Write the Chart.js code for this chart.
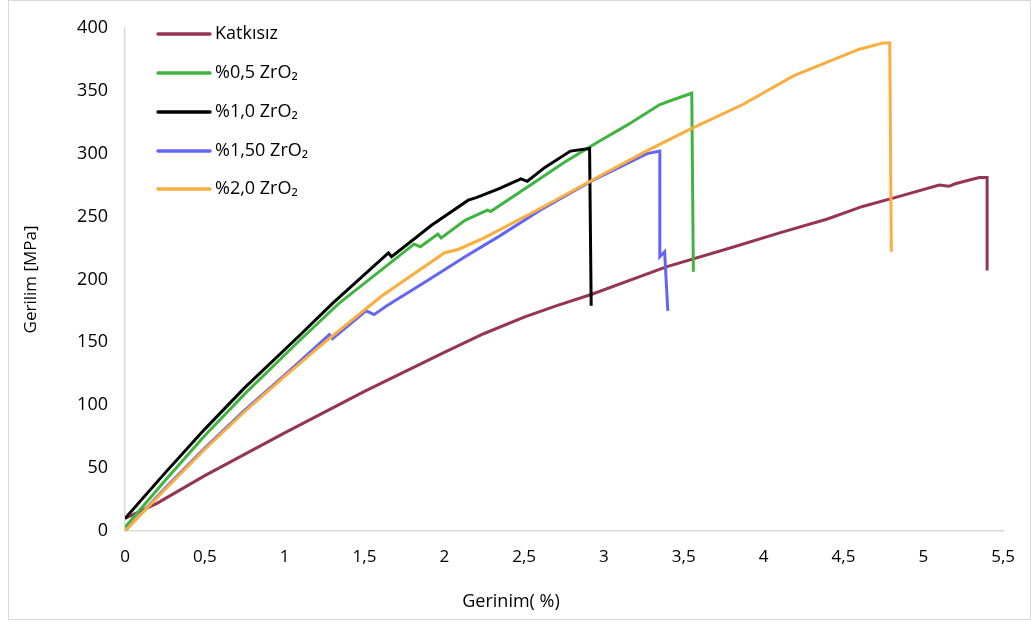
<!DOCTYPE html>
<html>
<head>
<meta charset="utf-8">
<script src="https://cdn.jsdelivr.net/npm/chart.js@4"></script>
<style>
  html, body { margin: 0; padding: 0; background: #fff; }
  #wrap { position: relative; width: 1031px; height: 624px; }
  #frame { position: absolute; left: 8px; top: 0; width: 1021px; height: 618px; border: 1px solid #d9d9d9; }
  #chart { position: absolute; left: 0; top: 0; }
</style>
</head>
<body>
<div id="wrap">
  <div id="frame"></div>
  <canvas id="chart" width="1031" height="624"></canvas>
</div>
<script>
// Tick labels
const xTicks = [0, 0.5, 1, 1.5, 2, 2.5, 3, 3.5, 4, 4.5, 5, 5.5];
const yTicks = [0, 50, 100, 150, 200, 250, 300, 350, 400];

// Katkısız
const katkisizX = [0, 0.2, 0.5, 1.0, 1.5, 2.0, 2.25, 2.5, 2.7, 2.92, 3.39, 3.79, 4.1, 4.4, 4.62, 4.85, 5.1, 5.16, 5.2, 5.35, 5.4, 5.4];
const katkisizY = [10, 22, 44, 78, 111, 142, 157, 170, 179, 188, 210, 225, 237, 248, 258, 266, 275, 274, 276, 281, 281, 207];

// %0,5 ZrO2
const zr05X = [0, 0.25, 0.5, 0.75, 1.09, 1.34, 1.6, 1.81, 1.85, 1.96, 1.98, 2.13, 2.27, 2.29, 2.54, 2.75, 2.96, 3.15, 3.35, 3.46, 3.55, 3.56];
const zr05Y = [3, 40, 76, 109, 151, 181, 207, 228, 226, 236, 233, 247, 255, 254, 275, 293, 309, 323, 339, 344, 348, 206];

// %1,0 ZrO2
const zr10X = [0, 0.25, 0.5, 0.75, 1.09, 1.3, 1.65, 1.67, 1.92, 2.15, 2.2, 2.34, 2.48, 2.52, 2.63, 2.79, 2.91, 2.92];
const zr10Y = [10, 46, 81, 114, 155, 181, 221, 218, 243, 263, 265, 272, 280, 278, 289, 302, 304, 179];

// %1,50 ZrO2
const zr15X = [0, 0.25, 0.5, 0.75, 1.0, 1.28, 1.3, 1.51, 1.56, 1.64, 1.88, 2.13, 2.34, 2.6, 2.92, 3.27, 3.35, 3.35, 3.38, 3.4];
const zr15Y = [0, 34, 66, 96, 124, 156, 153, 175, 172, 179, 198, 218, 234, 255, 278, 300, 302, 218, 222, 175];

// %2,0 ZrO2
const zr20X = [0, 0.25, 0.5, 0.75, 1.0, 1.25, 1.61, 2.0, 2.09, 2.25, 2.58, 3.0, 3.25, 3.55, 3.87, 4.19, 4.6, 4.75, 4.79, 4.8];
const zr20Y = [0, 33, 65, 95, 123, 150, 187, 221, 224, 233, 255, 284, 301, 320, 339, 362, 383, 388, 388, 222];

const seriesNames = ['Katkısız', '%0,5 ZrO₂', '%1,0 ZrO₂', '%1,50 ZrO₂', '%2,0 ZrO₂'];
const seriesColors = ['#953553', '#3fb43f', '#000000', '#6366f5', '#fbad3d'];

function toPoints(xs, ys) {
  return xs.map((x, i) => ({ x: x, y: ys[i] }));
}

const allX = [katkisizX, zr05X, zr10X, zr15X, zr20X];
const allY = [katkisizY, zr05Y, zr10Y, zr15Y, zr20Y];

const datasets = seriesNames.map((name, i) => ({
  label: name,
  data: toPoints(allX[i], allY[i]),
  borderColor: seriesColors[i],
  backgroundColor: seriesColors[i],
  borderWidth: 3,
  pointRadius: 0,
  tension: 0,
  fill: false,
  order: 5 - i // later series on top, like the original
}));

const sansFont = '"Open Sans", "DejaVu Sans", sans-serif';

// draws the legend box and x axis title
const extraText = {
  id: 'extraText',
  afterDraw(chart) {
    const ctx = chart.ctx;
    ctx.save();
    ctx.font = '18px ' + sansFont;
    ctx.textBaseline = 'middle';
    ctx.textAlign = 'left';
    const rows = [34, 73, 112, 151, 189];
    seriesNames.forEach((name, i) => {
      ctx.strokeStyle = seriesColors[i];
      ctx.lineWidth = 3.5;
      ctx.lineCap = 'round';
      ctx.beginPath();
      ctx.moveTo(158, rows[i]);
      ctx.lineTo(210, rows[i]);
      ctx.stroke();
      ctx.fillStyle = '#000';
      ctx.fillText(name, 215, rows[i]);
    });
    ctx.font = '18px ' + sansFont;
    ctx.textAlign = 'center';
    ctx.fillText('Gerinim( %)', 511, 602);
    ctx.restore();
  }
};

new Chart(document.getElementById('chart'), {
  type: 'line',
  data: { datasets: datasets },
  plugins: [extraText],
  options: {
    responsive: false,
    animation: false,
    layout: { padding: { top: 20, right: 23, left: 0, bottom: 0 } },
    plugins: {
      legend: { display: false },
      tooltip: { enabled: false }
    },
    scales: {
      x: {
        type: 'linear',
        min: 0,
        max: 5.5,
        afterBuildTicks(scale) {
          scale.ticks = xTicks.map(v => ({ value: v }));
        },
        afterFit(scale) { scale.height = 93; },
        grid: { display: false, drawTicks: false },
        border: { display: true, color: '#d9d9d9', width: 1.5 },
        ticks: {
          padding: 16,
          color: '#000',
          maxRotation: 0,
          font: { family: sansFont, size: 17 },
          callback: v => String(v).replace('.', ',')
        }
      },
      y: {
        min: 0,
        max: 400,
        afterBuildTicks(scale) {
          scale.ticks = yTicks.map(v => ({ value: v }));
        },
        afterFit(scale) { scale.width = 125; },
        grid: { display: false, drawTicks: false },
        border: { display: true, color: '#d9d9d9', width: 1.5 },
        title: {
          display: true,
          text: 'Gerilim [MPa]',
          color: '#000',
          font: { family: sansFont, size: 17 },
          padding: { top: 21, bottom: 0 }
        },
        ticks: {
          padding: 17,
          color: '#000',
          font: { family: sansFont, size: 18 }
        }
      }
    }
  }
});
</script>
</body>
</html>
